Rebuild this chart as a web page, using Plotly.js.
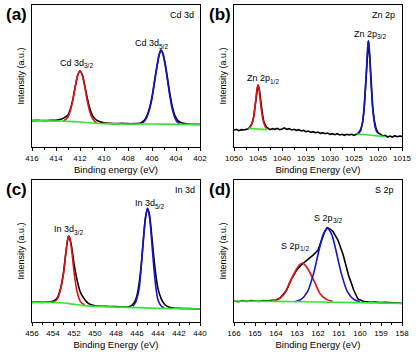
<!DOCTYPE html>
<html><head><meta charset="utf-8">
<script src="https://cdn.plot.ly/plotly-3.0.1.min.js"></script>
<style>html,body{margin:0;padding:0;background:#fff}#chart{width:416px;height:355px}</style>
</head><body><div id="chart"></div>
<script>
// ---------- Panel (a): Cd 3d ----------
const aRawX = [416,415.5,415,414.5,414,413.6,413.3,413.0,412.8,412.6,412.4,412.2,412.0,411.8,411.6,411.4,411.2,411.0,410.8,410.5,410.0,409.5,409,408.5,408,407.5,407,406.8,406.6,406.4,406.2,406.0,405.8,405.6,405.4,405.25,405.1,404.9,404.7,404.5,404.3,404.1,403.9,403.7,403.4,403,402.5,402];
const aRawY = [79,80,79,80,80,83,88,96,114,142,180,214,228,216,184,148,118,98,86,78,73,71,70,71,70,70,71,75,82,96,118,150,195,240,278,291,282,250,205,158,120,95,82,75,71,69,68,68];
const aFit1X = [413.4,413.0,412.8,412.6,412.4,412.2,412.0,411.8,411.6,411.4,411.2,411.0,410.8,410.6];
const aFit1Y = [77,90,110,140,180,215,228,214,180,140,108,88,78,72];
const aFit2X = [406.8,406.6,406.4,406.2,406.0,405.8,405.6,405.4,405.25,405.1,404.9,404.7,404.5,404.3,404.1,403.9,403.7];
const aFit2Y = [72,79,92,114,146,192,238,276,291,280,245,198,150,112,88,75,70];
const aBgX = [416,414,413,412,411,410,408,406,404,402];
const aBgY = [79,78,77,75,72,70,69,69,68,68];

// ---------- Panel (b): Zn 2p ----------
const bRawX = [1050,1049.5,1049,1048.5,1048,1047.5,1047,1046.6,1046.2,1045.9,1045.6,1045.3,1045.0,1044.7,1044.4,1044.1,1043.8,1043.4,1043.0,1042.5,1042,1041.5,1041,1040.5,1040,1039.5,1039,1038.5,1038,1037.5,1037,1036.5,1036,1035.5,1035,1034.5,1034,1033.5,1033,1032.5,1032,1031.5,1031,1030.5,1030,1029.5,1029,1028.5,1028,1027.5,1027,1026.5,1026,1025.5,1025,1024.5,1024,1023.6,1023.2,1022.9,1022.6,1022.3,1022.0,1021.7,1021.4,1021.1,1020.8,1020.4,1020,1019.5,1019,1018.5,1018,1017.5,1017,1016.5,1016,1015.5,1015];
const bRawY = [50,53,49,52,51,54,55,61,73,91,127,164,187,171,133,101,77,63,57,52,55,53,56,52,54,57,53,55,51,53,50,52,48,50,46,48,44,46,43,45,41,43,40,42,38,40,37,40,36,38,35,38,36,38,35,39,41,50,74,113,176,258,318,266,182,120,82,55,43,37,33,35,30,33,30,34,31,33,32];
const bFit1X = [1046.8,1046.4,1046.0,1045.7,1045.4,1045.2,1045.0,1044.8,1044.6,1044.3,1044.0,1043.6,1043.2];
const bFit1Y = [57,66,82,110,150,175,186,176,150,112,84,64,55];
const bFit2X = [1024.2,1023.8,1023.4,1023.0,1022.7,1022.4,1022.2,1022.0,1021.8,1021.6,1021.3,1021.0,1020.6,1020.2];
const bFit2Y = [42,48,62,98,155,230,290,319,292,235,155,100,60,44];
const bBg1X = [1047,1045,1043];
const bBg1Y = [56,54,52];
const bBg2X = [1024.4,1022,1020,1018.5];
const bBg2Y = [39,36,33,31];

// ---------- Panel (c): In 3d ----------
const cRawX = [456,455.5,455,454.5,454.0,453.6,453.3,453.0,452.8,452.6,452.5,452.4,452.2,452.0,451.7,451.4,451.0,450.6,450.0,449,448,447,446.8,446.5,446.2,446.0,445.8,445.6,445.4,445.2,445.0,444.8,444.6,444.4,444.2,444.0,443.7,443.4,443.0,442.5,442,441,440];
const cRawY = [59,60,59,60,62,72,98,148,202,248,258,252,220,175,125,90,68,55,49,47,46,45,46,50,62,80,115,170,245,310,341,320,260,195,140,100,70,54,45,42,41,40,39];
const cFit1X = [454.0,453.6,453.3,453.0,452.8,452.6,452.5,452.4,452.2,452.0,451.7,451.4,451.0];
const cFit1Y = [59,68,95,145,200,248,258,250,210,150,90,62,51];
const cFit2X = [446.4,446.1,445.8,445.6,445.4,445.2,445.0,444.8,444.6,444.4,444.2,444.0,443.7,443.4];
const cFit2Y = [47,62,100,165,245,312,341,312,243,165,103,66,48,43];
const cBgX = [456,454,453,452,451,450,448,446,444,442,440];
const cBgY = [59,59,57,53,49,47,45,43,41,40,39];

// ---------- Panel (d): S 2p ----------
const dRawX = [166,165.8,165.6,165.4,165.2,165.0,164.8,164.6,164.4,164.2,164.0,163.8,163.5,163.25,163.0,162.8,162.5,162.25,162.0,161.85,161.7,161.57,161.45,161.3,161.05,160.8,160.55,160.3,160.1,159.8,159.5,159.3,159.0,158.8,158.5,158.2,158];
const dRawY = [63,61,64,62,64,63,62,64,63,65,66,72,95,131,157,171,186,200,215,240,268,283,280,273,246,201,141,96,69,61,59,60,58,59,57,57,56];
const dFit1X = [164.2,163.9,163.6,163.35,163.1,162.9,162.75,162.6,162.4,162.15,161.9,161.6,161.3];
const dFit1Y = [63,68,85,118,150,170,177,170,150,118,85,68,62];
const dFit2X = [163.1,162.8,162.5,162.2,161.95,161.75,161.55,161.35,161.15,160.9,160.6,160.3,160.0];
const dFit2Y = [61,68,91,148,216,263,281,263,216,148,91,68,61];
const dBgX = [166,164,162,160,158];
const dBgY = [63,62,60,58,56];

// ---------- Text ----------
const panelLetters = ["(a)","(b)","(c)","(d)"];
const panelNames = ["Cd 3d","Zn 2p","In 3d","S 2p"];
const peakMain = [["Cd 3d","Cd 3d"],["Zn 2p","Zn 2p"],["In 3d","In 3d"],["S 2p","S 2p"]];
const peakSub = [["3/2","5/2"],["1/2","3/2"],["3/2","5/2"],["1/2","3/2"]];
const xTitles = ["Binding energy (eV)","Binding Energy (eV)","Binding Energy (eV)","Binding Energy (eV)"];
const yTitle = "Intensity (a.u.)";

// ---------- Styles / layout ----------
const W = 416, H = 355;
const BLACK = "#000000", RED = "#dc1414", BLUE = "#1414c8", GREEN = "#33e633";
const FONT = "Liberation Sans, Arial, sans-serif";
const LBL = 9, SUB = 6.5;
const boxes = [ // pixel boxes [x0,x1,y0(top),y1(bottom)]
  [32,200,5,147],[234,402,5,147],[32,200,180,322],[234,402,180,322]
];
const xRanges = [[416,402],[1050,1015],[456,440],[166,158]];
const xDticks = [2,5,2,1];
const peakPos = [[[77,63],[152,43]],[[263,78],[370,34]],[[69,229],[150,203]],[[295,246],[328,218]]];
const letterPos = [[16,15],[220,15],[16,190],[220,190]];
const namePos = [[182,15],[383,15],[185,190],[384,190]];

const panels = [
  {raw:[aRawX,aRawY], fits:[[aFit1X,aFit1Y,RED],[aFit2X,aFit2Y,BLUE]], bgs:[[aBgX,aBgY]], rawShape:"spline"},
  {raw:[bRawX,bRawY], fits:[[bFit1X,bFit1Y,RED],[bFit2X,bFit2Y,BLUE]], bgs:[[bBg1X,bBg1Y],[bBg2X,bBg2Y]], rawShape:"linear"},
  {raw:[cRawX,cRawY], fits:[[cFit1X,cFit1Y,RED],[cFit2X,cFit2Y,BLUE]], bgs:[[cBgX,cBgY]], rawShape:"spline"},
  {raw:[dRawX,dRawY], fits:[[dFit1X,dFit1Y,RED],[dFit2X,dFit2Y,BLUE]], bgs:[[dBgX,dBgY]], rawShape:"linear"}
];

const ctx = document.createElement("canvas").getContext("2d");
function textW(t, size) { ctx.font = size + "px 'Liberation Sans', Arial, sans-serif"; return ctx.measureText(t).width; }

const traces = [];
const layout = {
  width: W, height: H, margin:{l:0,r:0,t:0,b:0},
  paper_bgcolor:"#fff", plot_bgcolor:"#fff", showlegend:false,
  font:{family:FONT, color:"#000", size:9},
  annotations:[]
};
const px = x => x / W, py = y => 1 - y / H;

panels.forEach((p, i) => {
  const n = i + 1, xa = "x" + (n === 1 ? "" : n), ya = "y" + (n === 1 ? "" : n);
  traces.push({x:p.raw[0], y:p.raw[1], xaxis:xa, yaxis:ya, mode:"lines",
    line:{color:BLACK, width:1.6, shape:p.rawShape, smoothing:0.6}, hoverinfo:"skip"});
  p.fits.forEach(f => traces.push({x:f[0], y:f[1], xaxis:xa, yaxis:ya, mode:"lines",
    line:{color:f[2], width:1.6, shape:"spline", smoothing:0.8}, hoverinfo:"skip"}));
  p.bgs.forEach(g => traces.push({x:g[0], y:g[1], xaxis:xa, yaxis:ya, mode:"lines",
    line:{color:GREEN, width:1.6, shape:"spline"}, hoverinfo:"skip"}));

  const b = boxes[i];
  const xk = "xaxis" + (n === 1 ? "" : n), yk = "yaxis" + (n === 1 ? "" : n);
  layout[xk] = {domain:[px(b[0]), px(b[1])], range:xRanges[i], anchor:ya,
    showline:true, mirror:true, linecolor:"#000", linewidth:1.3,
    ticks:"outside", ticklen:3, tickwidth:1, tickcolor:"#000", dtick:xDticks[i],
    minor:{ticks:"outside", ticklen:2, tickcolor:"#000", dtick:xDticks[i]/2},
    showgrid:false, zeroline:false, tickfont:{size:8, family:FONT}, automargin:false,
    title:{text:xTitles[i], font:{size:9.5, family:FONT}, standoff:4}};
  layout[yk] = {domain:[py(b[3]), py(b[2])], range:[0,426], anchor:xa,
    showline:true, mirror:true, linecolor:"#000", linewidth:1.3,
    ticks:"", showticklabels:false, showgrid:false, zeroline:false, automargin:false,
    title:{text:yTitle, font:{size:9, family:FONT}, standoff:4}};

  const A = layout.annotations;
  A.push({xref:"paper", yref:"paper", x:px(letterPos[i][0]), y:py(letterPos[i][1]), text:panelLetters[i],
    showarrow:false, font:{size:17, family:"Liberation Sans, Arial, sans-serif", weight:"bold"}, xanchor:"center", yanchor:"middle"});
  A.push({xref:"paper", yref:"paper", x:px(namePos[i][0]), y:py(namePos[i][1]), text:panelNames[i],
    showarrow:false, font:{size:9, family:FONT}, xanchor:"center", yanchor:"middle"});
  peakMain[i].forEach((t, k) => {
    const wm = textW(t, LBL), ws = textW(peakSub[i][k], SUB);
    const left = peakPos[i][k][0] - (wm + ws) / 2, cy = peakPos[i][k][1];
    A.push({xref:"paper", yref:"paper", x:px(left), y:py(cy), text:t, showarrow:false,
      font:{size:LBL, family:FONT}, xanchor:"left", yanchor:"middle", borderpad:0, xshift:-1});
    A.push({xref:"paper", yref:"paper", x:px(left + wm), y:py(cy + 3), text:peakSub[i][k], showarrow:false,
      font:{size:SUB, family:FONT}, xanchor:"left", yanchor:"middle", borderpad:0, xshift:-1});
  });
});

Plotly.newPlot("chart", traces, layout, {staticPlot:true, displayModeBar:false});
</script></body></html>
